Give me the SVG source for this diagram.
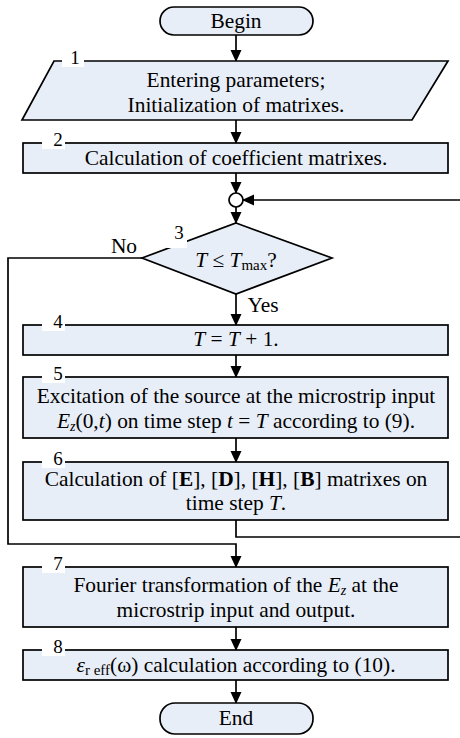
<svg xmlns="http://www.w3.org/2000/svg" width="460" height="738" viewBox="0 0 460 738" font-family="Liberation Serif, DejaVu Serif, serif" font-size="21.4">
<defs>
<marker id="ah" markerWidth="12" markerHeight="12" refX="11" refY="6" orient="auto" markerUnits="userSpaceOnUse">
<path d="M0,0.5 L12,6 L0,11.5 Z" fill="#000"/>
</marker>
<style>
.box{fill:#e8eef7;stroke:#000;stroke-width:1.7}
.ln{fill:none;stroke:#000;stroke-width:1.7}
text{fill:#000;text-anchor:middle}
.num{font-size:19px}
.patch{fill:#fff}
.i{font-style:italic}
.b{font-weight:bold}
</style>
</defs>
<rect width="460" height="738" fill="#fff"/>

<g id="connectors">
<line class="ln" x1="236" y1="35" x2="236" y2="61" marker-end="url(#ah)"/>
<line class="ln" x1="236" y1="120" x2="236" y2="143" marker-end="url(#ah)"/>
<line class="ln" x1="236" y1="173" x2="236" y2="193" marker-end="url(#ah)"/>
<line class="ln" x1="236" y1="207" x2="236" y2="223" marker-end="url(#ah)"/>
<line class="ln" x1="236" y1="294" x2="236" y2="325" marker-end="url(#ah)"/>
<line class="ln" x1="236" y1="355" x2="236" y2="377" marker-end="url(#ah)"/>
<line class="ln" x1="236" y1="438" x2="236" y2="462" marker-end="url(#ah)"/>
<polyline class="ln" points="142,258 8,258 8,544 236,544 236,567" marker-end="url(#ah)"/>
<polyline class="ln" points="236,520 236,537 463,537 463,200 243,200" marker-end="url(#ah)"/>
<line class="ln" x1="236" y1="627" x2="236" y2="650" marker-end="url(#ah)"/>
<line class="ln" x1="236" y1="680" x2="236" y2="703" marker-end="url(#ah)"/>
<text x="124" y="253">No</text>
<text x="263" y="312">Yes</text>
</g>

<g id="begin">
<rect class="box" x="160" y="7" width="153" height="28" rx="14"/>
<text x="236" y="28">Begin</text>
</g>

<g id="n1">
<polygon class="box" points="54,61 448,61 412,120 22,120"/>
<rect class="patch" x="62" y="55" width="22" height="12"/>
<text class="num" x="75" y="64">1</text>
<text x="236" y="87">Entering parameters;</text>
<text x="236" y="112">Initialization of matrixes.</text>
</g>

<g id="n2">
<rect class="box" x="23" y="143" width="425" height="30"/>
<rect class="patch" x="42" y="136" width="23" height="13"/>
<text class="num" x="58" y="146">2</text>
<text x="236" y="165">Calculation of coefficient matrixes.</text>
</g>

<g id="junction">
<circle cx="236" cy="200" r="7" fill="#fff" stroke="#000" stroke-width="1.7"/>
</g>

<g id="n3">
<polygon class="box" points="236,223 332,258 236,294 142,258"/>
<rect class="patch" x="167" y="236" width="20" height="12"/>
<text class="num" x="179" y="239">3</text>
<text x="236" y="267"><tspan class="i">T</tspan> ≤ <tspan class="i">T</tspan><tspan font-size="15" dy="3">max</tspan><tspan dy="-3">?</tspan></text>
</g>

<g id="n4">
<rect class="box" x="23" y="325" width="425" height="30"/>
<rect class="patch" x="42" y="318" width="23" height="13"/>
<text class="num" x="58" y="328">4</text>
<text x="236" y="346"><tspan class="i">T</tspan> = <tspan class="i">T</tspan> + 1.</text>
</g>

<g id="n5">
<rect class="box" x="23" y="377" width="425" height="61"/>
<rect class="patch" x="42" y="370" width="23" height="13"/>
<text class="num" x="58" y="380">5</text>
<text x="236" y="403">Excitation of the source at the microstrip input</text>
<text x="236" y="428"><tspan class="i">E</tspan><tspan class="i" font-size="14" dy="3">z</tspan><tspan dy="-3">(0,</tspan><tspan class="i">t</tspan>) on time step <tspan class="i">t</tspan> = <tspan class="i">T</tspan>  according to (9).</text>
</g>

<g id="n6">
<rect class="box" x="23" y="462" width="425" height="58"/>
<rect class="patch" x="42" y="455" width="23" height="13"/>
<text class="num" x="58" y="465">6</text>
<text x="236" y="486">Calculation of [<tspan class="b">E</tspan>], [<tspan class="b">D</tspan>], [<tspan class="b">H</tspan>], [<tspan class="b">B</tspan>] matrixes on</text>
<text x="236" y="510">time step <tspan class="i">T</tspan>.</text>
</g>

<g id="n7">
<rect class="box" x="23" y="567" width="425" height="60"/>
<rect class="patch" x="42" y="560" width="23" height="13"/>
<text class="num" x="58" y="570">7</text>
<text x="236" y="592">Fourier transformation of the <tspan class="i">E</tspan><tspan class="i" font-size="14" dy="3">z</tspan><tspan dy="-3"> at the</tspan></text>
<text x="236" y="617">microstrip input and output.</text>
</g>

<g id="n8">
<rect class="box" x="23" y="650" width="425" height="30"/>
<rect class="patch" x="42" y="643" width="23" height="13"/>
<text class="num" x="58" y="653">8</text>
<text x="236" y="672"><tspan class="i">ε</tspan><tspan font-size="15" dy="3">r eff</tspan><tspan dy="-3">(ω) calculation according to (10).</tspan></text>
</g>

<g id="end">
<rect class="box" x="160" y="703" width="153" height="31" rx="15"/>
<text x="236" y="725">End</text>
</g>
</svg>
